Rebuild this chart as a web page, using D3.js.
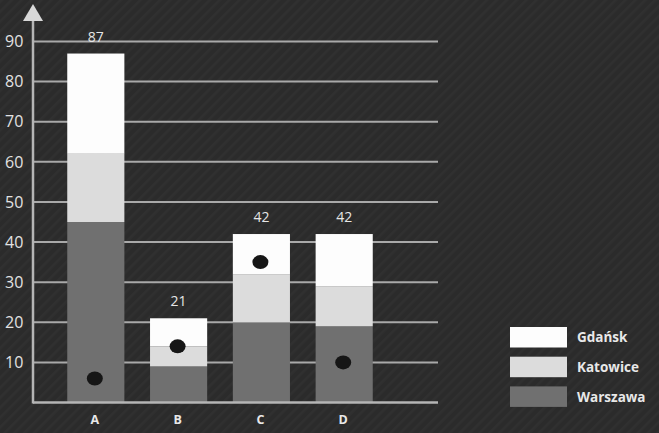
<!DOCTYPE html>
<html>
<head>
<meta charset="utf-8">
<script src="https://cdn.jsdelivr.net/npm/d3@7"></script>
<style>
  html, body { margin: 0; padding: 0; background: #2c2c2c; }
  svg { display: block; }
</style>
</head>
<body>
<svg id="chart" width="659" height="433"></svg>
<script>
// Stacked bars per category, with one marker per bar
const categories = ["A", "B", "C", "D"];
const warszawa = [45, 9, 20, 19];
const katowice = [17, 5, 12, 10];
const gdansk   = [25, 7, 10, 13];
const markers  = [6, 14, 35, 10];
const yTicks   = [10, 20, 30, 40, 50, 60, 70, 80, 90];
const seriesNames = ["Warszawa", "Katowice", "Gdańsk"];
const seriesColors = { "Warszawa": "#707070", "Katowice": "#dcdcdc", "Gdańsk": "#fdfdfd" };

const svg = d3.select("#chart");
const W = 659, H = 433;

// hatched background
const defs = svg.append("defs");
const pat = defs.append("pattern")
  .attr("id", "hatch").attr("patternUnits", "userSpaceOnUse")
  .attr("width", 7).attr("height", 7)
  .attr("patternTransform", "rotate(45)");
pat.append("rect").attr("width", 7).attr("height", 7).attr("fill", "#2b2b2b");
pat.append("rect").attr("width", 2.5).attr("height", 7).attr("fill", "#303030");
svg.append("rect").attr("width", W).attr("height", H).attr("fill", "url(#hatch)");

const axisX = 33, baseY = 402.5, rightX = 438;
const y = d3.scaleLinear().domain([0, 90]).range([baseY, 41.5]);
const x = d3.scaleBand().domain(categories).range([54, 386]).paddingInner(0.31).paddingOuter(0.16);

// gridlines
svg.append("g").selectAll("line").data(yTicks).join("line")
  .attr("x1", axisX).attr("x2", rightX)
  .attr("y1", d => y(d)).attr("y2", d => y(d))
  .attr("stroke", "#a9a9a9").attr("stroke-width", 2);

// tick labels
svg.append("g").selectAll("text").data(yTicks).join("text")
  .attr("x", 5).attr("y", d => y(d)).attr("dy", "0.36em")
  .attr("fill", "#e2e2e2").attr("font-family", "Open Sans, sans-serif")
  .attr("font-size", 16).text(d => d);

// stacked bars
const rows = categories.map((c, i) => ({ cat: c, "Warszawa": warszawa[i], "Katowice": katowice[i], "Gdańsk": gdansk[i] }));
const stack = d3.stack().keys(seriesNames)(rows);
svg.append("g").selectAll("g").data(stack).join("g")
  .attr("fill", s => seriesColors[s.key])
  .selectAll("rect").data(s => s).join("rect")
  .attr("x", d => x(d.data.cat)).attr("width", x.bandwidth())
  .attr("y", d => y(d[1])).attr("height", d => y(d[0]) - y(d[1]));

// totals above bars
svg.append("g").selectAll("text").data(rows).join("text")
  .attr("x", d => x(d.cat) + x.bandwidth() / 2)
  .attr("y", d => y(d["Warszawa"] + d["Katowice"] + d["Gdańsk"]) - 17)
  .attr("dy", "0.36em")
  .attr("text-anchor", "middle").attr("fill", "#e6e6e6")
  .attr("font-family", "Open Sans, sans-serif").attr("font-size", 14)
  .text(d => d["Warszawa"] + d["Katowice"] + d["Gdańsk"]);

// markers
svg.append("g").selectAll("ellipse").data(markers).join("ellipse")
  .attr("cx", (d, i) => x(categories[i]) + x.bandwidth() / 2 - 1)
  .attr("cy", d => y(d))
  .attr("rx", 8).attr("ry", 7).attr("fill", "#161616");

// baseline and y axis with arrow
svg.append("line").attr("x1", axisX).attr("x2", rightX).attr("y1", baseY).attr("y2", baseY)
  .attr("stroke", "#b5b5b5").attr("stroke-width", 2.5);
svg.append("line").attr("x1", axisX).attr("x2", axisX).attr("y1", 18).attr("y2", baseY + 1)
  .attr("stroke", "#b5b5b5").attr("stroke-width", 2.5);
svg.append("path").attr("d", `M${axisX},4 L${axisX + 10},21 L${axisX - 10},21 Z`).attr("fill", "#d8d8d8");

// category labels
svg.append("g").selectAll("text").data(categories).join("text")
  .attr("x", d => x(d) + x.bandwidth() / 2 - 1).attr("y", 419).attr("dy", "0.36em")
  .attr("text-anchor", "middle").attr("fill", "#e8e8e8")
  .attr("font-family", "Open Sans, sans-serif").attr("font-weight", "bold").attr("font-size", 12.5)
  .text(d => d);

// legend
const legendOrder = ["Gdańsk", "Katowice", "Warszawa"];
const lg = svg.append("g").selectAll("g").data(legendOrder).join("g")
  .attr("transform", (d, i) => `translate(510, ${327 + i * 29.7})`);
lg.append("rect").attr("width", 57).attr("height", 20.5).attr("fill", d => seriesColors[d]);
lg.append("text").attr("x", 67).attr("y", 10.5).attr("dy", "0.36em")
  .attr("fill", "#e8e8e8").attr("font-family", "Open Sans, sans-serif")
  .attr("font-weight", "bold").attr("font-size", 13.5).text(d => d);
</script>
</body>
</html>
